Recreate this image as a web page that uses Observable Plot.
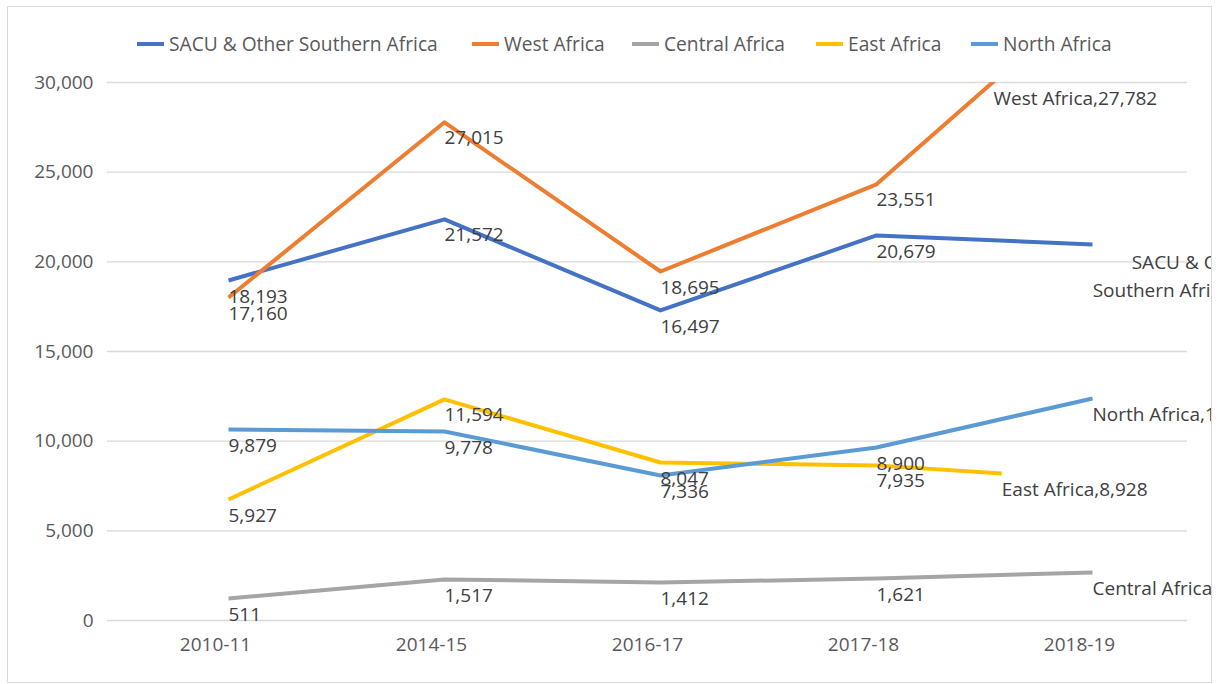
<!DOCTYPE html>
<html>
<head>
<meta charset="utf-8">
<script src="https://cdn.jsdelivr.net/npm/d3@7"></script>
<script src="https://cdn.jsdelivr.net/npm/@observablehq/plot@0.6"></script>
<style>
  html, body { margin: 0; padding: 0; background: #fff; }
  #wrap {
    position: absolute; left: 7px; top: 6px;
    width: 1203px; height: 675px;
    border: 1px solid #d9d9d9; overflow: hidden; background: #fff;
    font-family: "Open Sans", sans-serif;
  }
  #legend {
    position: relative; height: 50px;
  }
  .item { position: absolute; top: 26px; display: flex; align-items: center; font-size: 19.2px; color: #595959; white-space: nowrap; line-height: 22px; }
  .sw { display: inline-block; width: 27px; height: 4px; margin-right: 5px; }
</style>
</head>
<body>
<div id="wrap">
  <div id="legend"></div>
  <div id="chart"></div>
</div>
<script>
// ---- data ----
const periods = ["2010-11", "2014-15", "2016-17", "2017-18", "2018-19"];
const seriesNames = ["SACU & Other Southern Africa", "West Africa", "Central Africa", "East Africa", "North Africa"];
const seriesColors = ["#4472C4", "#ED7D31", "#A5A5A5", "#FFC000", "#5B9BD5"];

// plotted values (as drawn)
const sacuValues    = [18960, 22370, 17290, 21470, 20970];
const westValues    = [18010, 27780, 19460, 24320, 34900];
const centralValues = [1230, 2290, 2120, 2340, 2680];
const eastValues    = [6750, 12330, 8810, 8650, 8200];
const northValues   = [10650, 10540, 8090, 9650, 12380];

// period index of each plotted point (East Africa's line stops short of 2018-19)
const fullIndex = [0, 1, 2, 3, 4];
const eastIndex = [0, 1, 2, 3, 3.58];

// data labels as printed
const sacuLabels    = ["18,193", "21,572", "16,497", "20,679", "SACU & Other\nSouthern Africa,20,979"];
const westLabels    = ["17,160", "27,015", "18,695", "23,551", "West Africa,27,782"];
const centralLabels = ["511", "1,517", "1,412", "1,621", "Central Africa,1,937"];
const eastLabels    = ["5,927", "11,594", "8,047", "7,935", "East Africa,8,928"];
const northLabels   = ["9,879", "9,778", "7,336", "8,900", "North Africa,11,417"];

const yTicks = [0, 5000, 10000, 15000, 20000, 25000, 30000];
const yMax = 30000;

// ---- build tables ----
const valueSets = [sacuValues, westValues, centralValues, eastValues, northValues];
const indexSets = [fullIndex, fullIndex, fullIndex, eastIndex, fullIndex];
const labelSets = [sacuLabels, westLabels, centralLabels, eastLabels, northLabels];

const rows = [];
seriesNames.forEach((s, k) => {
  valueSets[k].forEach((v, j) => rows.push({series: s, i: indexSets[k][j], v, label: labelSets[k][j], j}));
});

// West Africa leaves the plot area at the top: its end label sits where the line is clipped
const w3 = westValues[3], w4 = westValues[4];
const westExit = {i: 3 + (yMax - w3) / (w4 - w3), v: yMax, label: westLabels[4]};

const normalLabels = rows.filter(r => !(r.j === 4 && (r.series === seriesNames[0] || r.series === seriesNames[1])));
const sacuEnd = rows.filter(r => r.j === 4 && r.series === seriesNames[0]);

// ---- legend ----
const legend = document.getElementById("legend");
const legendLeft = [129, 464, 624, 808, 963];
seriesNames.forEach((s, k) => {
  const it = document.createElement("div");
  it.className = "item";
  it.style.left = legendLeft[k] + "px";
  const sw = document.createElement("span");
  sw.className = "sw";
  sw.style.background = seriesColors[k];
  it.appendChild(sw);
  it.appendChild(document.createTextNode(s));
  legend.appendChild(it);
});

// ---- chart ----
const chart = Plot.plot({
  width: 1203,
  height: 625,
  marginLeft: 99,
  marginRight: 24,
  marginTop: 25,
  marginBottom: 62,
  style: {fontFamily: "'Open Sans', sans-serif", fontSize: "19px", color: "#595959", overflow: "hidden", background: "#fff"},
  x: {domain: [-0.5, 4.5], axis: null},
  y: {domain: [0, yMax], axis: null},
  color: {domain: seriesNames, range: seriesColors},
  marks: [
    Plot.ruleY(yTicks, {stroke: "#d9d9d9", strokeWidth: 1.3}),
    Plot.axisY({ticks: yTicks, tickSize: 0, tickPadding: 14, tickFormat: d3.format(","), fontSize: 19, label: null}),
    Plot.axisX({ticks: fullIndex, tickFormat: i => periods[i], tickSize: 0, tickPadding: 17, fontSize: 19, label: null}),
    Plot.line(rows, {x: "i", y: "v", z: "series", stroke: "series", strokeWidth: 4, clip: true, dx: 13, strokeLinecap: "butt"}),
    Plot.text(normalLabels, {x: "i", y: "v", text: "label", textAnchor: "start", dx: 13, dy: 16, fill: "#404040", fontSize: 19}),
    Plot.text([westExit], {x: "i", y: "v", text: "label", textAnchor: "start", dx: 14, dy: 16, fill: "#404040", fontSize: 19}),
    Plot.text(sacuEnd, {x: "i", y: "v", text: "label", textAnchor: "middle", lineHeight: 1.47, dx: 114, dy: 30, fill: "#404040", fontSize: 19})
  ]
});
document.getElementById("chart").appendChild(chart);
</script>
</body>
</html>
